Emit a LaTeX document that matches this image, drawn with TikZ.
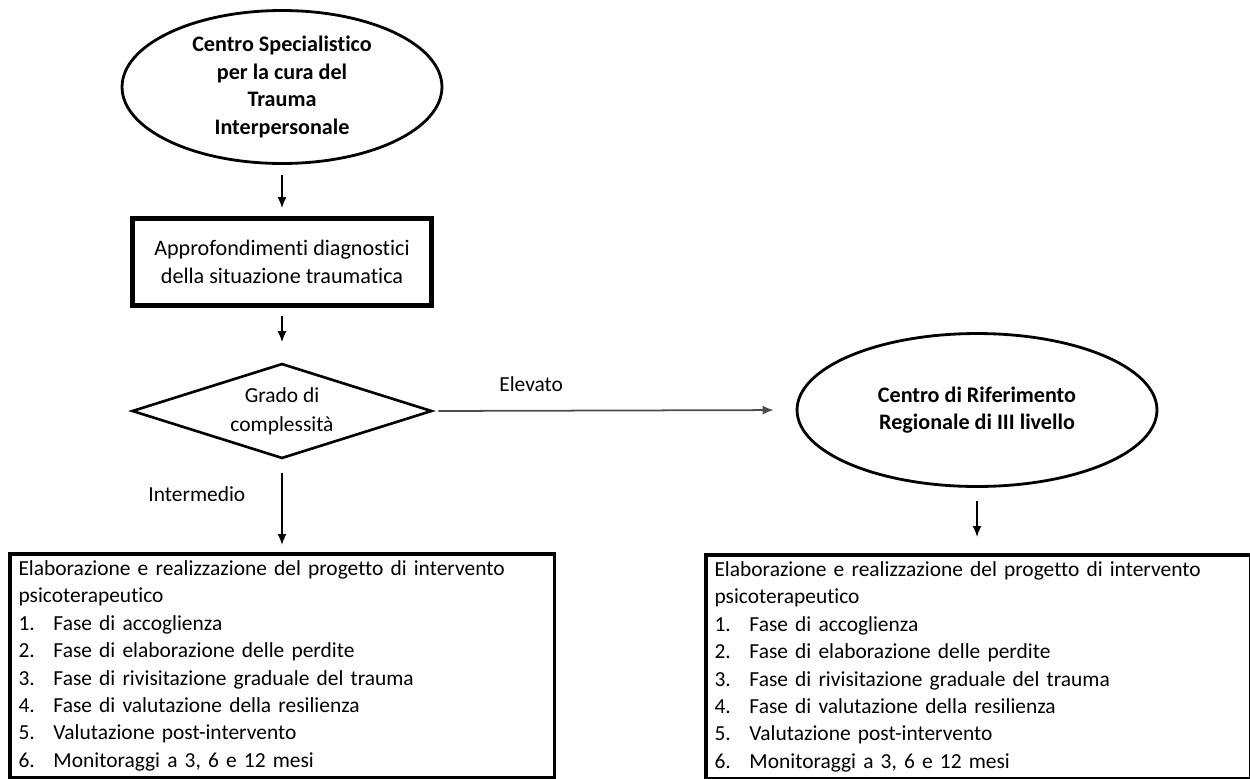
\documentclass[tikz,border=0pt]{standalone}
\usepackage{fontspec}
\setmainfont{Carlito}[Ligatures=NoCommon]
\usetikzlibrary{shapes.geometric,arrows.meta}
\newcommand{\voce}[1]{\makebox[0.7cm][l]{#1}}
\newcommand{\fasi}{Elaborazione e realizzazione del progetto di intervento\\
psicoterapeutico\\
\voce{1.}Fase di accoglienza\\
\voce{2.}Fase di elaborazione delle perdite\\
\voce{3.}Fase di rivisitazione graduale del trauma\\
\voce{4.}Fase di valutazione della resilienza\\
\voce{5.}Valutazione post-intervento\\
\voce{6.}Monitoraggi a 3, 6 e 12 mesi}
\begin{document}
\begin{tikzpicture}[x=0.02cm,y=-0.02cm,
		font=\fontsize{12.2pt}{15.6pt}\selectfont,
		ovale/.style={draw,ellipse,line width=1.6pt,inner sep=0pt,align=center,font=\fontsize{12.6pt}{15.6pt}\selectfont\bfseries},
		riquadro/.style={draw,rectangle,line width=2.6pt,align=center,minimum width=5.98cm,minimum height=1.74cm,font=\fontsize{12.6pt}{15.6pt}\selectfont},
		rombo/.style={draw,diamond,shape aspect=3,line width=1.5pt,inner sep=0pt,align=center,minimum width=6cm,minimum height=1.9cm},
		lista/.style={draw,rectangle,line width=2pt,anchor=north west,align=left,text width=10.55cm,inner xsep=0.17cm,minimum width=10.9cm,minimum height=4.48cm},
		freccia/.style={line width=1pt,-{Latex[length=2.2mm,width=1.8mm]}}]
	\useasboundingbox (0,0) rectangle (1250,778);
	% nodi
	\node[ovale,minimum width=6.4cm,minimum height=3.06cm] (centro) at (282,87) {Centro Specialistico\\per la cura del\\Trauma\\Interpersonale};
	\node[riquadro] (appro) at (282,262) {Approfondimenti diagnostici\\della situazione traumatica};
	\node[rombo] (grado) at (282,411) {Grado di\\[1pt]complessità};
	\node[ovale,minimum width=7.2cm,minimum height=3.06cm] (riferimento) at (977,410) {Centro di Riferimento\\Regionale di III livello};
	\node[lista] (sinistra) at (8,552) {\fasi};
	\node[lista] (destra) at (704,553) {\fasi};
	% frecce
	\draw[freccia,shorten <=0.2cm,shorten >=0.16cm] (centro.south) -- (appro.north);
	\draw[freccia,shorten <=0.16cm,shorten >=0.4cm] (appro.south) -- (grado.north);
	\draw[freccia,black!70,shorten <=0.1cm,shorten >=0.44cm] (grado.east) -- (riferimento.west)
		node[pos=0.27,above=0.25cm,black] (elevato) {Elevato};
	\draw[freccia,shorten <=0.26cm,shorten >=0.14cm] (grado.south) -- (grado.south |- sinistra.north)
		node[pos=0.37,left=0.6cm] (intermedio) {Intermedio};
	\draw[freccia,shorten <=0.26cm,shorten >=0.32cm] (riferimento.south) -- (riferimento.south |- destra.north);
\end{tikzpicture}
\end{document}
